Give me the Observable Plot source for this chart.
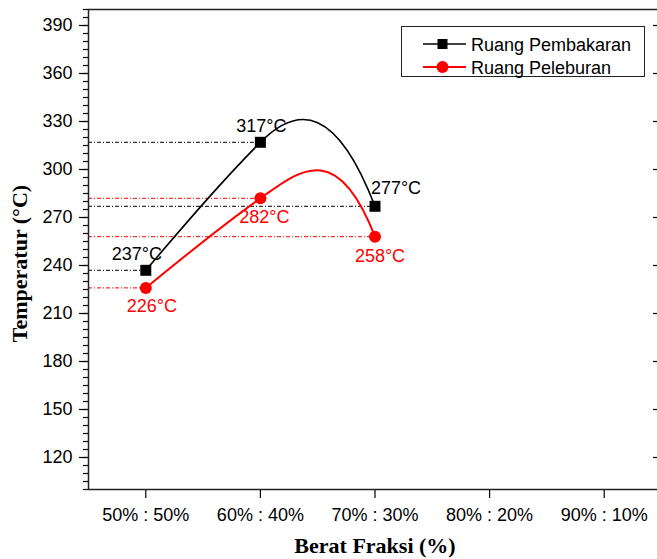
<!DOCTYPE html>
<html>
<head>
<meta charset="utf-8">
<script src="https://cdn.jsdelivr.net/npm/d3@7"></script>
<script src="https://cdn.jsdelivr.net/npm/@observablehq/plot@0.6"></script>
<style>
  html, body { margin: 0; padding: 0; background: #fff; overflow: hidden; }
  #wrap { position: relative; width: 657px; height: 559px; overflow: hidden; }
  #legend { position: absolute; left: 401px; top: 26px; }
  #legend text { font-family: "Liberation Sans", Arial, sans-serif; font-size: 18px; fill: #000; }
</style>
</head>
<body>
<div id="wrap">
  <div id="chart"></div>
  <svg id="legend" width="245" height="52"></svg>
</div>
<script>
// ---- data ----
const categories = ["50% : 50%", "60% : 40%", "70% : 30%", "80% : 20%", "90% : 10%"];
const seriesNames = ["Ruang Pembakaran", "Ruang Peleburan"];
const pembakaran = [237, 317, 277];   // black squares
const peleburan = [226, 282, 258];    // red circles
const yMajorTicks = [120, 150, 180, 210, 240, 270, 300, 330, 360, 390];
const yDomain = [100, 400];
const yMinorStep = 5;

const xDomain = [0.5, categories.length + 0.5];
const xTicks = categories.map((c, i) => i + 1);
const black = pembakaran.map((v, i) => ({series: seriesNames[0], pos: i + 1, value: v, i}));
const red = peleburan.map((v, i) => ({series: seriesNames[1], pos: i + 1, value: v, i}));
const yMinorTicks = d3.range(yDomain[0], yDomain[1] + 0.001, yMinorStep);

// Spline through the points (Origin-like look): interior tangent follows incoming chord,
// natural start, steep end.
function OriginSpline(context) { this._context = context; }
OriginSpline.prototype = {
  areaStart() { this._line = 0; },
  areaEnd() { this._line = NaN; },
  lineStart() { this._x = []; this._y = []; },
  point(x, y) { this._x.push(+x); this._y.push(+y); },
  lineEnd() {
    const X = this._x, Y = this._y, n = X.length, c = this._context;
    if (n === 0) return;
    this._line ? c.lineTo(X[0], Y[0]) : c.moveTo(X[0], Y[0]);
    if (n === 2) c.lineTo(X[1], Y[1]);
    else if (n > 2) {
      const d = [];
      for (let i = 0; i < n - 1; ++i) d[i] = (Y[i + 1] - Y[i]) / (X[i + 1] - X[i]);
      const m = new Array(n);
      for (let i = 1; i < n - 1; ++i) m[i] = d[i - 1] * 0.9;
      m[0] = (3 * d[0] - m[1]) / 2;
      m[n - 1] = Math.sign(d[n - 2]) * 2.6;
      for (let i = 0; i < n - 1; ++i) {
        const h = (X[i + 1] - X[i]) / 3;
        c.bezierCurveTo(X[i] + h, Y[i] + m[i] * h, X[i + 1] - h, Y[i + 1] - m[i + 1] * h, X[i + 1], Y[i + 1]);
      }
    }
  }
};
const originSpline = (context) => new OriginSpline(context);

function pointLabel(data, i, dx, dy, color) {
  return Plot.text(data, {
    filter: (d) => d.i === i,
    x: "pos", y: "value", text: (d) => `${d.value}°C`,
    dx, dy, fill: color, fontSize: 18, textAnchor: "middle", lineAnchor: "middle"
  });
}

const chart = Plot.plot({
  width: 657,
  height: 559,
  marginLeft: 88,
  marginRight: -4,
  marginTop: 9,
  marginBottom: 70,
  style: {fontFamily: "'Liberation Sans', Arial, sans-serif", fontSize: "18px", color: "#000", background: "#fff"},
  x: {domain: xDomain},
  y: {domain: yDomain},
  marks: [
    // dash-dot reference lines from the y axis to each point
    Plot.ruleY(black, {y: "value", x1: () => xDomain[0], x2: "pos", stroke: "#000", strokeWidth: 1, strokeDasharray: "4,2,1,2"}),
    Plot.ruleY(red, {y: "value", x1: () => xDomain[0], x2: "pos", stroke: "#ff0000", strokeWidth: 1, strokeDasharray: "4,2,1,2"}),
    // curves
    Plot.line(black, {x: "pos", y: "value", curve: originSpline, stroke: "#000", strokeWidth: 1.6}),
    Plot.line(red, {x: "pos", y: "value", curve: originSpline, stroke: "#ff0000", strokeWidth: 2}),
    // markers
    Plot.dot(black, {x: "pos", y: "value", symbol: "square", r: 6.2, fill: "#000", stroke: null}),
    Plot.dot(red, {x: "pos", y: "value", symbol: "circle", r: 6, fill: "#ff0000", stroke: null}),
    // value labels
    pointLabel(black, 0, -9, -16, "#000"),
    pointLabel(black, 1, 1, -16, "#000"),
    pointLabel(black, 2, 21, -18, "#000"),
    pointLabel(red, 0, 6, 18, "#ff0000"),
    pointLabel(red, 1, 4, 19, "#ff0000"),
    pointLabel(red, 2, 5, 20, "#ff0000"),
    // axes
    Plot.axisY({ticks: yMinorTicks, anchor: "left", tickSize: 5, tickFormat: () => "", label: null, strokeWidth: 1.2}),
    Plot.axisY({ticks: yMajorTicks, anchor: "left", tickSize: 9, tickPadding: 7, fontSize: 18, label: null, strokeWidth: 1.2}),
    Plot.axisY({ticks: yMinorTicks, anchor: "right", tickSize: 5, insetRight: 5, tickFormat: () => "", label: null, strokeWidth: 1.2}),
    Plot.axisY({ticks: yMajorTicks, anchor: "right", tickSize: 9, insetRight: 9, tickFormat: () => "", label: null, strokeWidth: 1.2}),
    Plot.axisX({ticks: xTicks, tickFormat: (d) => categories[d - 1], anchor: "bottom", tickSize: 9, tickPadding: 10, fontSize: 18, label: null, strokeWidth: 1.2}),
    Plot.frame({stroke: "#222", strokeWidth: 1.5}),
    // axis titles
    Plot.text(["Temperatur (°C)"], {text: (d) => d, frameAnchor: "left", rotate: -90, dx: -69, dy: 14,
      textAnchor: "middle", lineAnchor: "middle",
      fontFamily: "'Liberation Serif', 'Times New Roman', serif", fontWeight: "bold", fontSize: 22, fill: "#000"}),
    Plot.text(["Berat Fraksi (%)"], {text: (d) => d, frameAnchor: "bottom", dy: 56,
      textAnchor: "middle", lineAnchor: "middle",
      fontFamily: "'Liberation Serif', 'Times New Roman', serif", fontWeight: "bold", fontSize: 22, fill: "#000"})
  ]
});
document.getElementById("chart").appendChild(chart);

// legend
const lg = d3.select("#legend");
lg.append("rect").attr("x", 0.5).attr("y", 0.5).attr("width", 243).attr("height", 50)
  .attr("fill", "#fff").attr("stroke", "#222").attr("stroke-width", 1);
const rowsY = [18, 41];
const colors = ["#000", "#ff0000"];
seriesNames.forEach((name, k) => {
  const y = rowsY[k];
  lg.append("line").attr("x1", 22).attr("x2", 65).attr("y1", y).attr("y2", y)
    .attr("stroke", colors[k]).attr("stroke-width", k ? 2 : 1.6);
  if (k === 0) lg.append("rect").attr("x", 41.5 - 5).attr("y", y - 5).attr("width", 10).attr("height", 10).attr("fill", colors[k]);
  else lg.append("circle").attr("cx", 41.5).attr("cy", y).attr("r", 6).attr("fill", colors[k]);
  lg.append("text").attr("x", 70).attr("y", y + 6.5).text(name);
});
</script>
</body>
</html>
